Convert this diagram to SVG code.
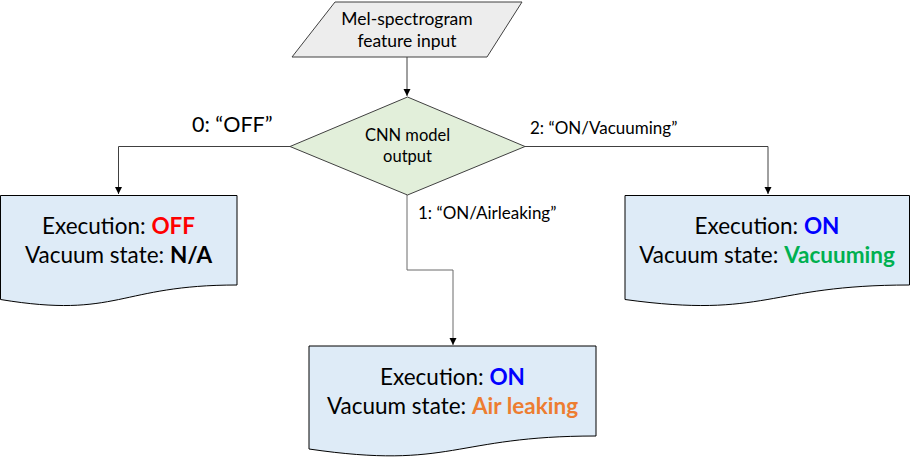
<svg xmlns="http://www.w3.org/2000/svg" width="911" height="457" viewBox="0 0 911 457">
<style>
  text { font-family: Lato, "Open Sans", "Liberation Sans", sans-serif; fill: #000; }
  .box { fill: #DEEBF7; stroke: #000; stroke-width: 1; }
  .main { font-size: 22.5px; text-anchor: middle; }
  .small { font-size: 17px; text-anchor: middle; }
  .lbl { font-size: 17px; }
  .b { font-weight: bold; }
  .conn { fill: none; stroke: #404040; stroke-width: 1; }
</style>
<defs>
  <marker id="arr" markerWidth="8" markerHeight="8" refX="7" refY="4" orient="auto" markerUnits="userSpaceOnUse">
    <path d="M0,0.5 L7,4 L0,7.5 Z" fill="#000"/>
  </marker>
</defs>
<g id="connectors">
  <path class="conn" d="M407,57 V96" marker-end="url(#arr)"/>
  <path class="conn" d="M290,146.5 H118.5 V194" marker-end="url(#arr)"/>
  <path class="conn" d="M525,146.5 H768 V194" marker-end="url(#arr)"/>
  <path class="conn" style="stroke:#6a6a6a" d="M407,195 V270 H453 V345" marker-end="url(#arr)"/>
  <text class="lbl" x="192" y="132" style="font-size:21.5px">0: “OFF”</text>
  <text class="lbl" x="530" y="134">2: “ON/Vacuuming”</text>
  <text class="lbl" x="418" y="219">1: “ON/Airleaking”</text>
</g>
<g id="input">
  <polygon points="335,2 522,2 487,57 292,57" fill="#EDEDED" stroke="#404040" stroke-width="1"/>
  <text class="small" x="407" y="25" style="font-size:17.5px">Mel-spectrogram</text>
  <text class="small" x="407" y="47" style="font-size:17.5px">feature input</text>
</g>
<g id="cnn">
  <polygon points="407.5,97 525,146.5 407.5,195 290,146.5" fill="#E2EFDA" stroke="#404040" stroke-width="1"/>
  <text class="small" x="407.5" y="141" style="font-size:16.5px">CNN model</text>
  <text class="small" x="407.5" y="162" style="font-size:16.5px">output</text>
</g>
<g id="off">
  <path class="box" d="M0.5,195.5 H237 V285 C118.5,285 118.5,319 0.5,299.5 Z"/>
  <text class="main" x="118.5" y="234">Execution: <tspan class="b" fill="#FF0000">OFF</tspan></text>
  <text class="main" x="118.5" y="263">Vacuum state: <tspan class="b">N/A</tspan></text>
</g>
<g id="vacuuming">
  <path class="box" d="M625,195.5 H909.5 V285 C767,285 767,319 625,299.5 Z"/>
  <text class="main" x="767" y="234">Execution: <tspan class="b" fill="#0000FF">ON</tspan></text>
  <text class="main" x="767" y="263">Vacuum state: <tspan class="b" fill="#00B050">Vacuuming</tspan></text>
</g>
<g id="airleaking">
  <path class="box" d="M309,346 H596 V436 C452.5,436 452.5,470 309,449 Z"/>
  <text class="main" x="452.5" y="385">Execution: <tspan class="b" fill="#0000FF">ON</tspan></text>
  <text class="main" x="452.5" y="414">Vacuum state: <tspan class="b" fill="#ED7D31">Air leaking</tspan></text>
</g>
</svg>
